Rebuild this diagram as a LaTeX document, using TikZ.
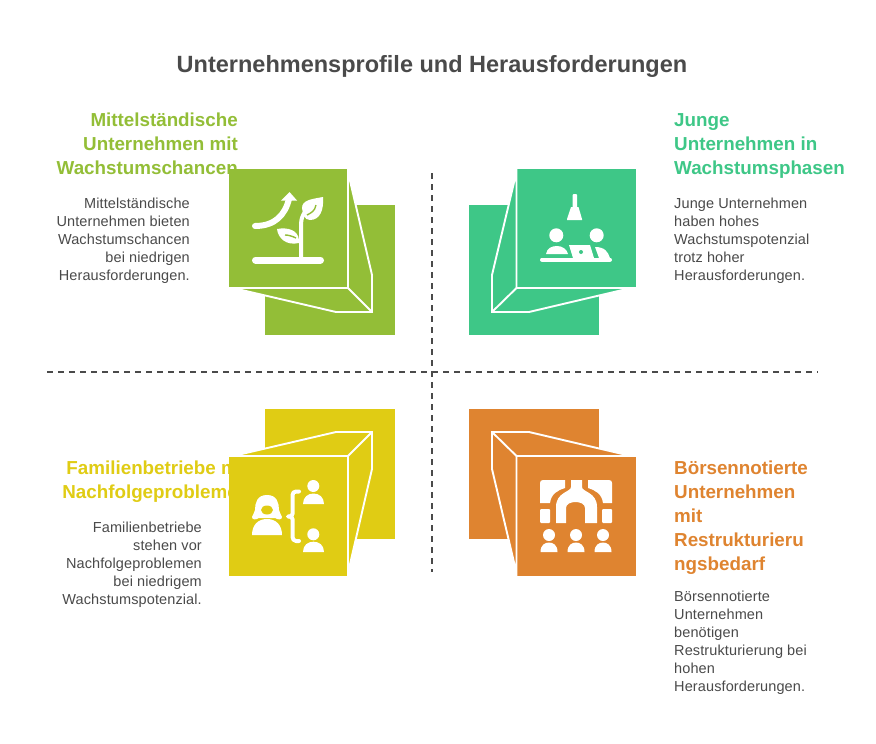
\documentclass[tikz,border=0pt]{standalone}
\usepackage{fontspec}
\setmainfont{Liberation Sans}
\definecolor{cg}{HTML}{93BE37}
\definecolor{ct}{HTML}{3EC787}
\definecolor{cy}{HTML}{E0CC14}
\definecolor{co}{HTML}{DF8430}
\definecolor{ink}{HTML}{4A4A4A}
\newfontfamily\bodyfont[LetterSpace=0.8]{Liberation Sans}
\tikzset{
  x=1pt,y=-1pt,
  wl/.style={draw=white,line width=1.9pt,line join=miter},
  ic/.style={fill=white,draw=none},
  icl/.style={draw=white,line width=6pt,line cap=round,line join=round},
  head/.style={font=\fontsize{18.8}{24}\selectfont\bfseries,inner sep=0pt},
  body/.style={font=\bodyfont\fontsize{14.5}{18}\selectfont,text=ink,inner sep=0pt},
  divider/.style={draw=ink,line width=1.6pt,dash pattern=on 6pt off 5pt},
  square/.style={draw=none,inner sep=0pt,minimum size=119pt,anchor=north west},
  backsq/.style={draw=none,inner sep=0pt,minimum size=130pt,anchor=north west}
}
\begin{document}
\begin{tikzpicture}
\useasboundingbox (0,0) rectangle (876,744);
\fill[white] (0,0) rectangle (876,744);
\node[font=\fontsize{23.5}{28}\selectfont\bfseries,text=ink,inner sep=0pt] (title) at (432,66.5) {Unternehmensprofile und Herausforderungen};

\coordinate (vt) at (432,173); \coordinate (vb) at (432,572);
\coordinate (hl) at (47,372); \coordinate (hr) at (818,372);
\draw[divider] (vt) -- (vb);
\draw[divider] (hl) -- (hr);

% text
\node[head,text=cg,align=right,anchor=north east] (t1) at (238,113) {Mittelständische\\Unternehmen mit\\Wachstumschancen};
\node[body,align=right,anchor=north east] (b1) at (190,198) {Mittelständische\\Unternehmen bieten\\Wachstumschancen\\bei niedrigen\\Herausforderungen.};
\node[head,text=ct,align=left,anchor=north west] (t2) at (674,113) {Junge\\Unternehmen in\\Wachstumsphasen};
\node[body,align=left,anchor=north west] (b2) at (674,198) {Junge Unternehmen\\haben hohes\\Wachstumspotenzial\\trotz hoher\\Herausforderungen.};
\node[head,text=cy,align=right,anchor=north east] (t3) at (249.5,461) {Familienbetriebe mit\\Nachfolgeproblemen};
\node[body,align=right,anchor=north east] (b3) at (202,522) {Familienbetriebe\\stehen vor\\Nachfolgeproblemen\\bei niedrigem\\Wachstumspotenzial.};
\node[head,text=co,align=left,anchor=north west] (t4) at (674,461) {Börsennotierte\\Unternehmen\\mit\\Restrukturieru\\ngsbedarf};
\node[body,align=left,anchor=north west] (b4) at (674,591) {Börsennotierte\\Unternehmen\\benötigen\\Restrukturierung bei\\hohen\\Herausforderungen.};

% green
\node[backsq,fill=cg] (bk1) at (265,205) {};
\node[square,fill=cg] (f1) at (229,169) {};
\draw[wl,fill=cg] (348,172) -- (372,275) -- (372,312) -- (336,312) -- (233,288) -- (348,288) -- cycle;
\draw[wl] (348,288) -- (372,312);
\draw[icl] (255,226) .. controls (275,226) and (285,215) .. (289,199);
\fill[ic] (281,200.5) -- (289.5,192) -- (297,200.5) -- cycle;
\draw[icl,line width=7pt] (255.5,260) -- (320.5,260);
\draw[white,line width=4pt] (301,260) -- (301,225) .. controls (301,218) and (303,215) .. (305,212);
\fill[ic] (302,208) .. controls (302,200) and (312,199) .. (323,197) .. controls (324,210) and (320,220) .. (310,220) .. controls (304,220) and (303,214) .. (302,208) -- cycle;
\fill[ic] (299,240) .. controls (298,230) and (288,227) .. (277,229) .. controls (278,238) and (286,246) .. (299,243) -- cycle;
\draw[cg,line width=1.4pt] (307,215) .. controls (311,213) and (315,211) .. (316,205);
\draw[cg,line width=1.4pt] (296,238) .. controls (292,236) and (288,235) .. (285,235);

% teal
\node[backsq,fill=ct] (bk2) at (469,205) {};
\node[square,fill=ct] (f2) at (517,169) {};
\draw[wl,fill=ct] (516.5,172) -- (492,275) -- (492,312) -- (529,312) -- (631,288) -- (516.5,288) -- cycle;
\draw[wl] (516.5,288) -- (492,312);
\fill[ic,rounded corners=1pt] (572.5,194) rectangle (577,208);
\fill[ic] (571,207) -- (578.5,207) -- (582,219) -- (582,220) -- (567,220) -- (567,219) -- cycle;
\fill[ic] (556.3,235.3) circle (7);
\fill[ic] (596.7,235.3) circle (7);
\fill[ic] (546,254) .. controls (547,248) and (552,246) .. (557,246) .. controls (562,246) and (567,249) .. (568,254) -- cycle;
\fill[ic] (569,245) -- (590,245) -- (594,258) -- (573,258) -- cycle;
\fill[ct] (581,252) circle (2);
\fill[ic] (595,247) .. controls (605,247) and (608,252) .. (610,258) -- (599,258) -- cycle;
\draw[white,line width=4pt,line cap=round] (542,259.5) -- (610,259.5);

% yellow
\node[backsq,fill=cy] (bk3) at (265,409) {};
\node[square,fill=cy] (f3) at (229,457) {};
\draw[wl,fill=cy] (233,456) -- (336,432) -- (372,432) -- (372,469) -- (348,573) -- (348,456) -- cycle;
\draw[wl] (348,456) -- (372,432);
\fill[ic] (267,495) .. controls (257,495) and (255,503) .. (255,510) .. controls (255,513) and (252,515) .. (252,517) .. controls (252,520) and (256,520) .. (259,518) -- (275,518) .. controls (278,520) and (282,520) .. (282,517) .. controls (282,515) and (279,513) .. (279,510) .. controls (279,503) and (277,495) .. (267,495) -- cycle;
\fill[cy] (267,510) ellipse (6 and 4.5);
\fill[ic] (252,535) .. controls (252,525) and (258,519) .. (267,519) .. controls (276,519) and (282,525) .. (282,535) -- cycle;
\draw[white,line width=4pt,line cap=round,line join=round] (299,491.5) -- (296,491.5) .. controls (294,491.5) and (292.5,493) .. (292.5,495) -- (292.5,514) .. controls (292.5,516) and (291,516.5) .. (288,516.5) .. controls (291,516.5) and (292.5,517) .. (292.5,519) -- (292.5,537) .. controls (292.5,539) and (294,541) .. (296,541) -- (299,541);
\fill[ic] (313.3,486) circle (6);
\fill[ic] (303,504) .. controls (303,497) and (308,493.5) .. (313.5,493.5) .. controls (319,493.5) and (324,497) .. (324,504) -- cycle;
\fill[ic] (313.3,534.3) circle (6);
\fill[ic] (303,552) .. controls (303,545) and (308,541.7) .. (313.5,541.7) .. controls (319,541.7) and (324,545) .. (324,552) -- cycle;

% orange
\node[backsq,fill=co] (bk4) at (469,409) {};
\node[square,fill=co] (f4) at (517,457) {};
\draw[wl,fill=co] (516.5,573) -- (492,469) -- (492,432) -- (529,432) -- (631,456) -- (516.5,456) -- cycle;
\draw[wl] (516.5,456) -- (492,432);
\fill[ic] (543,480) -- (565,480) -- (565,488) .. controls (558,490) and (551,494) .. (550,503) -- (540,503) -- (540,483) .. controls (540,481) and (541,480) .. (543,480) -- cycle;
\fill[ic] (609,480) -- (588,480) -- (588,488) .. controls (595,490) and (602,494) .. (603,503) -- (612,503) -- (612,483) .. controls (612,481) and (611,480) .. (609,480) -- cycle;
\fill[ic,rounded corners=1pt] (540,509) rectangle (550,523);
\fill[ic,rounded corners=1pt] (602,509) rectangle (612,523);
\fill[ic] (571,480) -- (582,480) -- (582,487) .. controls (582,492) and (597,492) .. (597,507) -- (597,523) -- (585,523) -- (585,508) .. controls (585,500) and (566,500) .. (566,508) -- (566,523) -- (556,523) -- (556,507) .. controls (556,492) and (571,492) .. (571,487) -- cycle;
\foreach \px/\nm in {549/a,576/b,603/c}{
  \fill[ic] (\px,535) circle (6);
  \fill[ic] (\px-8.5,552) .. controls (\px-8.5,545) and (\px-4,542.5) .. (\px,542.5) .. controls (\px+4,542.5) and (\px+8.5,545) .. (\px+8.5,552) -- cycle;
}
\end{tikzpicture}
\end{document}
